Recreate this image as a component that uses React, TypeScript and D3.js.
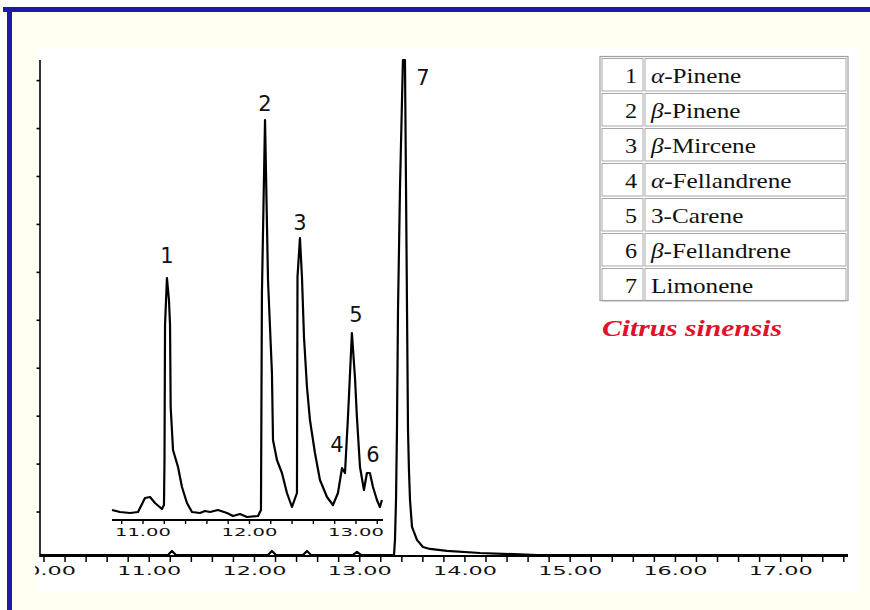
import React from "react";
import * as d3 from "d3";

// ---- data ----
// main chromatogram (time in min, intensity in main-axis units)
const mainTimes = [9.962, 11.178, 11.216, 11.254, 12.128, 12.166, 12.204, 12.461, 12.499, 12.537, 12.936, 12.974, 13.012, 13.326, 13.335, 13.345, 13.354, 13.364, 13.383, 13.402, 13.411, 13.43, 13.44, 13.459, 13.468, 13.478, 13.497, 13.544, 13.601, 13.668, 13.829, 14.143, 14.685, 17.64];
const mainValues = [0.104, 0.104, 0.188, 0.104, 0.104, 0.188, 0.104, 0.104, 0.188, 0.104, 0.104, 0.167, 0.104, 0.104, 0.417, 1.25, 2.71, 5.22, 7.78, 9.6, 10.43, 10.43, 7.78, 2.71, 1.88, 1.25, 0.69, 0.42, 0.27, 0.23, 0.19, 0.146, 0.104, 0.104];

// inset (expanded) chromatogram
const insetTimes = [10.709, 10.784, 10.878, 10.953, 11.019, 11.066, 11.113, 11.178, 11.197, 11.202, 11.207, 11.225, 11.244, 11.254, 11.26, 11.282, 11.329, 11.366, 11.413, 11.46, 11.535, 11.582, 11.629, 11.704, 11.789, 11.845, 11.911, 11.977, 12.08, 12.108, 12.117, 12.146, 12.174, 12.211, 12.221, 12.258, 12.305, 12.352, 12.399, 12.446, 12.451, 12.474, 12.493, 12.512, 12.54, 12.568, 12.615, 12.662, 12.728, 12.784, 12.831, 12.869, 12.897, 12.925, 12.962, 12.991, 13.009, 13.038, 13.075, 13.103, 13.131, 13.16, 13.197, 13.225, 13.244];
const insetValues = [2.5, 2.0, 1.75, 2.0, 5.5, 5.75, 4.25, 2.75, 3.75, 15, 48.75, 60.5, 55, 48.75, 28.25, 17.5, 13.25, 8.25, 4.25, 2.0, 1.75, 2.25, 2.0, 2.5, 1.75, 1.0, 1.5, 0.75, 1.0, 2.5, 56.75, 100, 60, 36.75, 20, 15, 11.75, 6.75, 3.25, 6.75, 60.75, 70.5, 60.75, 45.75, 33.25, 25, 16.75, 10, 5.75, 3.75, 6.75, 13, 11.75, 25.75, 46.75, 35.5, 25.75, 13.25, 7.5, 11.75, 11.75, 8.25, 5, 3.25, 5];

// peak labels 1-6 sit on the inset, 7 on the main trace
const insetPeakLabels = ["1", "2", "3", "4", "5", "6"];
const insetLabelTimes = [11.225, 12.146, 12.474, 12.822, 13.0, 13.16];
const insetLabelValues = [64.25, 102.25, 72.5, 17, 49.5, 14.5];
const mainPeakLabel = "7";
const mainLabelTime = 13.601;
const mainLabelValue = 9.91;

const mainTickLabels = ["10.00", "11.00", "12.00", "13.00", "14.00", "15.00", "16.00", "17.00"];
const mainTickValues = [10, 11, 12, 13, 14, 15, 16, 17];
const insetTickLabels = ["11.00", "12.00", "13.00"];
const insetTickValues = [11, 12, 13];
const yTickValues = [1, 2, 3, 4, 5, 6, 7, 8, 9, 10];

const legendNumbers = ["1", "2", "3", "4", "5", "6", "7"];
const legendGreek = ["α", "β", "β", "α", "", "β", ""];
const legendNames = ["-Pinene", "-Pinene", "-Mircene", "-Fellandrene", "3-Carene", "-Fellandrene", "Limonene"];
const speciesName = "Citrus sinensis";

export default function App() {
  const W = 870, H = 610;
  const xMain = d3.scaleLinear().domain([9.962, 17.64]).range([40, 848]);
  const yMain = d3.scaleLinear().domain([0.083, 10.43]).range([556, 60]);
  const xIn = d3.scaleLinear().domain([10.709, 13.254]).range([112, 383]);
  const yIn = d3.scaleLinear().domain([0, 100]).range([520, 120]);

  const mainLine = d3.line<number>().x((t) => xMain(t)).y((_, i) => yMain(mainValues[i]));
  const insetLine = d3.line<number>().x((t) => xIn(t)).y((_, i) => yIn(insetValues[i]));

  const minorMain = d3.range(0, 39).map((i) => 10 + i * 0.2);
  const minorInset = d3.range(0, 13).map((i) => 10.8 + i * 0.2);

  const rowTops = [57, 92, 127, 162, 197, 232, 267];
  const rowH = 34.5;

  return (
    <svg width={W} height={H} style={{ position: "absolute", left: 0, top: 0 }}>
      <defs>
        <clipPath id="lblclip">
          <rect x={35} y={0} width={W} height={H} />
        </clipPath>
      </defs>
      <rect x={0} y={0} width={W} height={H} fill="#ffffff" />
      <rect x={12} y={12} width={W - 12} height={H - 12} fill="#fffff2" />
      <rect x={36} y={48} width={824} height={544} fill="#ffffff" />
      <rect x={3} y={7} width={W - 3} height={5} fill="#1f19a6" />
      <rect x={7} y={7} width={5} height={H - 7} fill="#1f19a6" />

      {/* main axes */}
      <line x1={40} y1={60} x2={40} y2={557} stroke="#000" strokeWidth={1.6} />
      {yTickValues.map((v) => (
        <line key={"yt" + v} x1={36.5} x2={40} y1={yMain(v)} y2={yMain(v)} stroke="#000" strokeWidth={1.6} />
      ))}
      <line x1={40} y1={556} x2={848} y2={556} stroke="#000" strokeWidth={1.8} />
      {minorMain.map((t, i) => (
        <line key={"xt" + i} x1={xMain(t)} x2={xMain(t)} y1={556} y2={562} stroke="#000" strokeWidth={1.5} />
      ))}
      <g clipPath="url(#lblclip)">
        {mainTickValues.map((t, i) => (
          <text key={"xl" + i} x={xMain(t) - 32} y={575} fontFamily="DejaVu Sans" fontSize={13}
            textLength={64} lengthAdjust="spacingAndGlyphs" fill="#111">{mainTickLabels[i]}</text>
        ))}
      </g>

      {/* main trace */}
      <path d={mainLine(mainTimes) || ""} fill="none" stroke="#000" strokeWidth={2.2} strokeLinejoin="round" />

      {/* inset */}
      <line x1={112} y1={520} x2={383} y2={520} stroke="#000" strokeWidth={1.8} />
      {minorInset.map((t, i) => (
        <line key={"it" + i} x1={xIn(t)} x2={xIn(t)} y1={520} y2={524} stroke="#000" strokeWidth={1.4} />
      ))}
      {insetTickValues.map((t, i) => (
        <text key={"il" + i} x={xIn(t) - 28} y={536} fontFamily="DejaVu Sans" fontSize={11}
          textLength={56} lengthAdjust="spacingAndGlyphs" fill="#111">{insetTickLabels[i]}</text>
      ))}
      <path d={insetLine(insetTimes) || ""} fill="none" stroke="#000" strokeWidth={2.2} strokeLinejoin="round" />

      {/* peak labels */}
      {insetPeakLabels.map((l, i) => (
        <text key={"pl" + i} x={xIn(insetLabelTimes[i])} y={yIn(insetLabelValues[i])} textAnchor="middle"
          fontFamily="DejaVu Sans" fontSize={21} fill="#111">{l}</text>
      ))}
      <text x={xMain(mainLabelTime)} y={yMain(mainLabelValue)} textAnchor="middle"
        fontFamily="DejaVu Sans" fontSize={21} fill="#111">{mainPeakLabel}</text>

      {/* legend table */}
      <rect x={600} y={56.5} width={248} height={244} fill="#fff" stroke="#a0a0a0" strokeWidth={1.2} />
      {rowTops.map((y0, i) => (
        <g key={"lg" + i}>
          <rect x={602} y={y0 + 1.5} width={41} height={rowH - 2} fill="none" stroke="#a8a8a8" strokeWidth={1} />
          <rect x={645} y={y0 + 1.5} width={201} height={rowH - 2} fill="none" stroke="#a8a8a8" strokeWidth={1} />
          <text x={637} y={y0 + 26} textAnchor="end" fontFamily="Liberation Serif" fontSize={21} fill="#111"
            transform={`translate(637,0) scale(1.15,1) translate(-637,0)`}>{legendNumbers[i]}</text>
          <text x={651} y={y0 + 26} fontFamily="Liberation Serif" fontSize={21} fill="#111"
            transform={`translate(651,0) scale(1.2,1) translate(-651,0)`}>
            {legendGreek[i] ? <tspan fontStyle="italic">{legendGreek[i]}</tspan> : null}
            <tspan>{legendNames[i]}</tspan>
          </text>
        </g>
      ))}
      <text x={602} y={336} fontFamily="Liberation Serif" fontSize={24} fontWeight="bold" fontStyle="italic"
        fill="#e3102c" textLength={180} lengthAdjust="spacingAndGlyphs">{speciesName}</text>
    </svg>
  );
}
